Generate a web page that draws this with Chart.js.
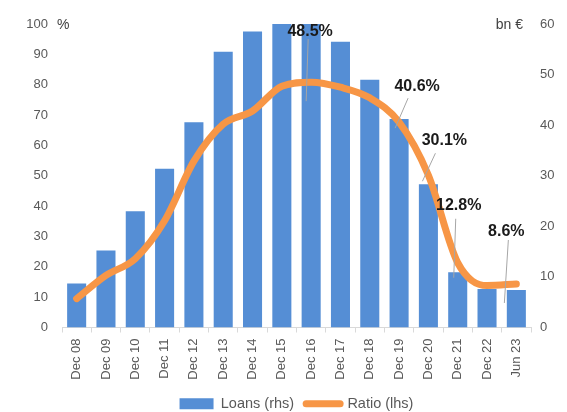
<!DOCTYPE html>
<html>
<head>
<meta charset="utf-8">
<script src="https://cdn.jsdelivr.net/npm/chart.js@4.4.1/dist/chart.umd.min.js"></script>
<style>
  html, body { margin: 0; padding: 0; background: #fff; }
  #wrap { width: 567px; height: 412px; }
</style>
</head>
<body>
<div id="wrap"><canvas id="chart"></canvas></div>
<script>
// Datos
const categories = ['Dec 08', 'Dec 09', 'Dec 10', 'Dec 11', 'Dec 12', 'Dec 13', 'Dec 14', 'Dec 15',
                    'Dec 16', 'Dec 17', 'Dec 18', 'Dec 19', 'Dec 20', 'Dec 21', 'Dec 22', 'Jun 23'];
const loans = [8.7, 15.2, 23.0, 31.4, 40.6, 54.5, 58.5, 60, 60, 56.5, 49.0, 41.2, 28.3, 10.9, 7.6, 7.4];
const ratio = [5.7, 10.3, 13.6, 21.1, 32.9, 40.2, 42.8, 47.7, 48.5, 47.5, 45.4, 40.6, 30.1, 12.8, 8.3, 8.6];
const leftTicks = [0, 10, 20, 30, 40, 50, 60, 70, 80, 90, 100];
const rightTicks = [0, 10, 20, 30, 40, 50, 60];
// etiquetas con línea guía (índice de la categoría)
const labelled = [8, 11, 12, 13, 15];

const FONT = "'Liberation Sans', Arial, sans-serif";
const GREY = '#595959';
const BLUE = '#558ED5';
const ORANGE = '#F79646';

// desplazamientos de texto y línea guía respecto al punto
const labelOffsets = {
    8:  { tx: -1, ty: -51, x1: -3, y1: -43, x2: -5, y2: 19 },
    11: { tx: 18, ty: -36, x1: 9, y1: -24, x2: -4, y2: 6 },
    12: { tx: 16, ty: -35, x1: 7, y1: -22, x2: -6, y2: 6 },
    13: { tx: 1, ty: -57, x1: -2, y1: -44, x2: -4, y2: 15 },
    15: { tx: -10, ty: -52, x1: -8, y1: -44, x2: -12, y2: 19 }
};

const extras = {
    id: 'extras',
    afterLayout(chart) {
        // la leyenda va centrada sobre el área del gráfico, no sobre el lienzo
        const lg = chart.legend;
        const shift = (chart.chartArea.left + chart.chartArea.right) / 2 - (lg.left + lg.right) / 2;
        lg.left += shift;
        lg.right += shift;
    },
    afterDatasetsDraw(chart) {
        const c = chart.ctx;
        const area = chart.chartArea;
        const meta = chart.getDatasetMeta(1);
        c.save();
        // líneas guía y etiquetas
        labelled.forEach(i => {
            const p = meta.data[i];
            const o = labelOffsets[i];
            c.strokeStyle = '#a6a6a6';
            c.lineWidth = 1;
            c.beginPath();
            c.moveTo(p.x + o.x1, p.y + o.y1);
            c.lineTo(p.x + o.x2, p.y + o.y2);
            c.stroke();
            c.fillStyle = '#1a1a1a';
            c.font = 'bold 16px ' + FONT;
            c.textAlign = 'center';
            c.textBaseline = 'middle';
            c.fillText(ratio[i].toFixed(1) + '%', p.x + o.tx, p.y + o.ty);
        });
        // unidades de los ejes
        c.fillStyle = '#404040';
        c.font = '14px ' + FONT;
        c.textBaseline = 'middle';
        c.textAlign = 'left';
        c.fillText('%', area.left - 5, area.top + 1);
        c.textAlign = 'right';
        c.fillText('bn €', area.right - 8, area.top + 1);
        c.restore();
    }
};

const ctx = document.getElementById('chart').getContext('2d');
const chart = new Chart(ctx, {
    type: 'bar',
    data: {
        labels: categories,
        datasets: [{
            type: 'bar',
            label: 'Loans (rhs)',
            data: loans,
            yAxisID: 'y1',
            backgroundColor: BLUE,
            barPercentage: 0.65,
            categoryPercentage: 1.0,
            order: 2
        }, {
            type: 'line',
            label: 'Ratio (lhs)',
            data: ratio,
            yAxisID: 'y1',
            borderColor: ORANGE,
            backgroundColor: ORANGE,
            borderWidth: 7,
            borderCapStyle: 'round',
            cubicInterpolationMode: 'monotone',
            pointRadius: 0,
            order: 1
        }]
    },
    options: {
        responsive: true,
        maintainAspectRatio: false,
        animation: false,
        layout: { padding: { top: 24, left: 0, right: 0, bottom: -9 } },
        plugins: {
            tooltip: { enabled: false },
            legend: {
                position: 'bottom',
                labels: {
                    color: GREY,
                    font: { family: FONT, size: 14.5 },
                    usePointStyle: true,
                    pointStyleWidth: 34,
                    boxHeight: 11,
                    padding: 12,
                    generateLabels(ch) {
                        return [{
                            text: 'Loans (rhs)', fillStyle: BLUE, strokeStyle: BLUE,
                            lineWidth: 0, pointStyle: 'rect', fontColor: GREY, datasetIndex: 0
                        }, {
                            text: 'Ratio (lhs)', fillStyle: ORANGE, strokeStyle: ORANGE,
                            lineWidth: 7, lineCap: 'round', pointStyle: 'line', fontColor: GREY, datasetIndex: 1
                        }];
                    }
                }
            }
        },
        scales: {
            x: {
                offset: true,
                grid: { display: true, offset: true, drawOnChartArea: false, tickLength: 5, color: '#d9d9d9' },
                border: { color: '#d9d9d9' },
                ticks: {
                    color: GREY,
                    font: { family: FONT, size: 13 },
                    minRotation: 90,
                    maxRotation: 90,
                    padding: 6
                },
                afterFit(s) { s.height = 57; }
            },
            y: {
                position: 'left',
                min: 0,
                max: 100,
                afterBuildTicks(s) { s.ticks = leftTicks.map(v => ({ value: v })); },
                grid: { display: false, drawTicks: false },
                border: { display: false },
                ticks: { color: GREY, font: { family: FONT, size: 13 }, padding: 14 },
                afterFit(s) { s.width = 62; }
            },
            y1: {
                position: 'right',
                min: 0,
                max: 60,
                afterBuildTicks(s) { s.ticks = rightTicks.map(v => ({ value: v })); },
                grid: { display: false, drawTicks: false },
                border: { display: false },
                ticks: { color: GREY, font: { family: FONT, size: 13 }, padding: 9 },
                afterFit(s) { s.width = 36; }
            }
        }
    },
    plugins: [extras]
});
</script>
</body>
</html>
